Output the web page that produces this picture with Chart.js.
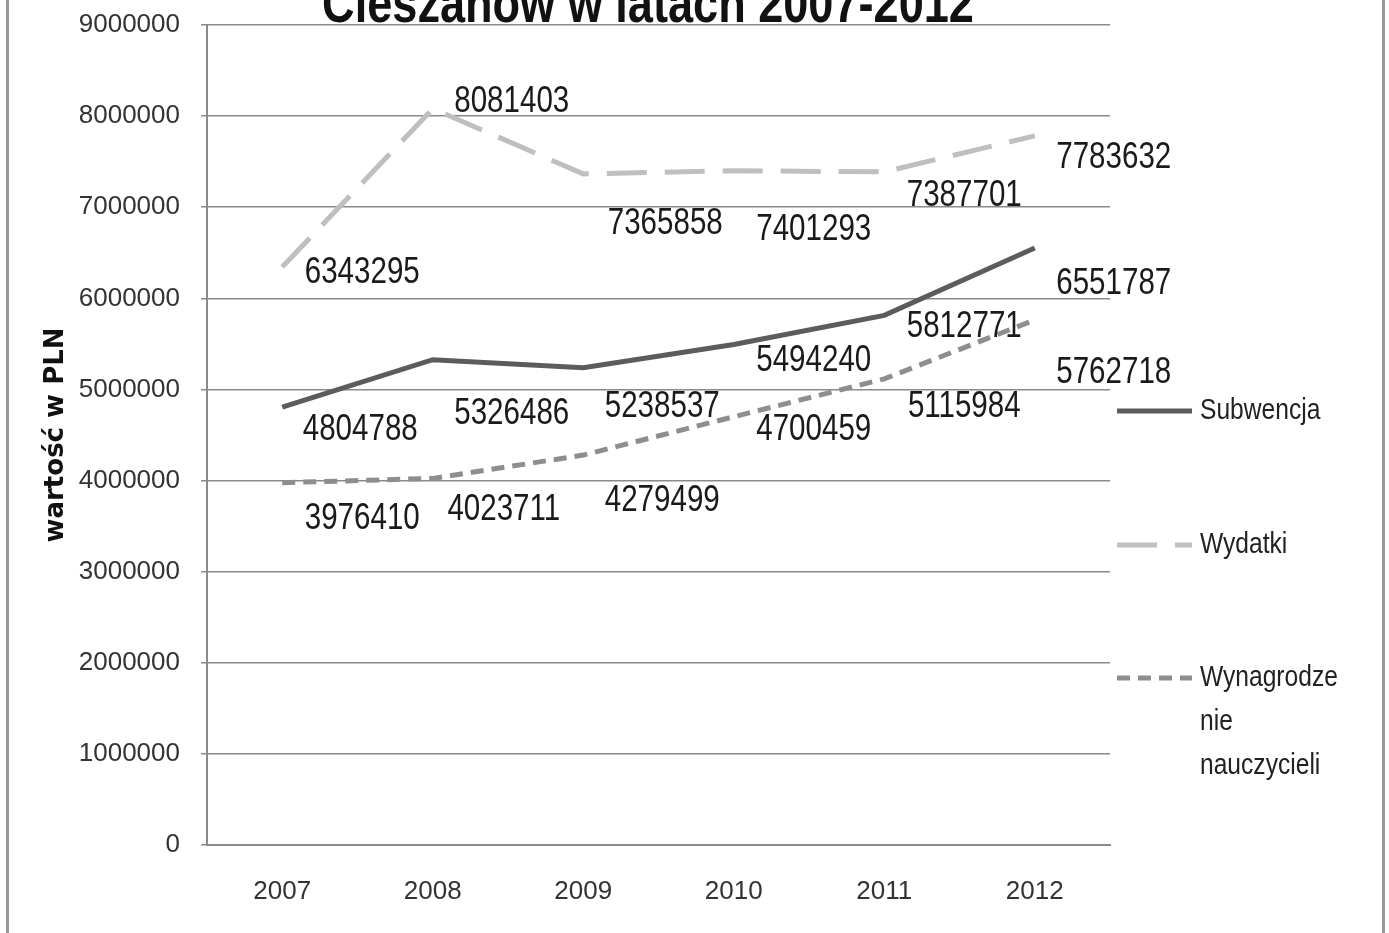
<!DOCTYPE html>
<html>
<head>
<meta charset="utf-8">
<script src="https://cdn.jsdelivr.net/npm/chart.js@4.4.0/dist/chart.umd.min.js"></script>
<style>
  html, body { margin: 0; padding: 0; background: #fff; overflow: hidden; }
  #wrap { position: relative; width: 1389px; height: 933px; }
  #frame { position: absolute; left: 6px; top: 0; width: 1373px; height: 933px;
           border-left: 3px solid #9a9a9a; border-right: 3px solid #9a9a9a; pointer-events: none; }
</style>
</head>
<body>
<div id="wrap">
  <canvas id="chart" width="1389" height="933"></canvas>
  <div id="frame"></div>
</div>
<script>
// data
const years = ['2007', '2008', '2009', '2010', '2011', '2012'];
const subwencja = [4804788, 5326486, 5238537, 5494240, 5812771, 6551787];
const wydatki = [6343295, 8081403, 7365858, 7401293, 7387701, 7783632];
const wynagrodzenia = [3976410, 4023711, 4279499, 4700459, 5115984, 5762718];
const yTicks = [0, 1000000, 2000000, 3000000, 4000000, 5000000, 6000000, 7000000, 8000000, 9000000];

const chartTitle = 'Cieszanów w latach 2007-2012';
const yTitle = 'wartość w PLN';
const seriesNames = ['Subwencja', 'Wydatki', 'Wynagrodzenie nauczycieli'];
// legend text wrapped the way the original box wraps it
const legendText = [['Subwencja'], ['Wydatki'], ['Wynagrodze', 'nie', 'nauczycieli']];

// where each value label sits relative to its point (px)
const labelShift = [
  [[78, 23], [79, 54], [79, 39], [80, 17], [80, 12], [79, 36]],
  [[80, 6], [79, -7], [82, 50], [80, 59], [80, 24], [79, 22]],
  [[80, 36], [71, 32], [79, 46], [80, 13], [80, 28], [79, 53]]
];

const sans = "'Liberation Sans', Arial, sans-serif";
const squeeze = 0.82; // narrow look of the original text

function narrowText(ctx, text, x, y, align) {
  ctx.save();
  ctx.translate(x, y);
  ctx.scale(squeeze, 1);
  ctx.textAlign = align;
  ctx.fillText(text, 0, 0);
  ctx.restore();
}

const titlePlugin = {
  id: 'cutTitle',
  afterDraw(chart) {
    const ctx = chart.ctx;
    ctx.save();
    ctx.font = 'bold 55px ' + sans;
    ctx.fillStyle = '#111';
    ctx.textBaseline = 'alphabetic';
    narrowText(ctx, chartTitle, 648, 22, 'center');
    ctx.restore();
  }
};

const valueLabels = {
  id: 'valueLabels',
  afterDatasetsDraw(chart) {
    const ctx = chart.ctx;
    ctx.save();
    ctx.font = '36px ' + sans;
    ctx.fillStyle = '#1a1a1a';
    ctx.textBaseline = 'middle';
    chart.data.datasets.forEach((ds, i) => {
      const meta = chart.getDatasetMeta(i);
      meta.data.forEach((pt, j) => {
        const s = labelShift[i][j];
        narrowText(ctx, String(ds.data[j]), pt.x + s[0], pt.y + s[1], 'center');
      });
    });
    ctx.restore();
  }
};

const sideLegend = {
  id: 'sideLegend',
  afterDraw(chart) {
    const ctx = chart.ctx;
    const rowY = [411, 545, 678];
    ctx.save();
    chart.data.datasets.forEach((ds, i) => {
      const y = rowY[i];
      ctx.strokeStyle = ds.borderColor;
      ctx.lineWidth = ds.borderWidth;
      ctx.setLineDash(ds.borderDash || []);
      ctx.beginPath();
      ctx.moveTo(1117, y);
      ctx.lineTo(1192, y);
      ctx.stroke();
      ctx.setLineDash([]);
      ctx.font = '30px ' + sans;
      ctx.fillStyle = '#222';
      ctx.textBaseline = 'middle';
      legendText[i].forEach((t, k) => narrowText(ctx, t, 1200, y + k * 44, 'left'));
    });
    ctx.restore();
  }
};

new Chart(document.getElementById('chart'), {
  type: 'line',
  data: {
    labels: years,
    datasets: [
      {
        label: seriesNames[0],
        data: subwencja,
        borderColor: '#5c5c5c',
        borderWidth: 5,
        pointRadius: 0,
        tension: 0,
        fill: false
      },
      {
        label: seriesNames[1],
        data: wydatki,
        borderColor: '#bfbfbf',
        borderWidth: 5,
        borderDash: [40, 18],
        pointRadius: 0,
        tension: 0,
        fill: false
      },
      {
        label: seriesNames[2],
        data: wynagrodzenia,
        borderColor: '#8e8e8e',
        borderWidth: 5,
        borderDash: [13, 8],
        pointRadius: 0,
        tension: 0,
        fill: false
      }
    ]
  },
  options: {
    responsive: false,
    animation: false,
    layout: { padding: { left: 0, top: 25, right: 279, bottom: 0 } },
    plugins: {
      legend: { display: false },
      tooltip: { enabled: false },
      title: { display: false }
    },
    scales: {
      x: {
        type: 'category',
        offset: true,
        afterFit(scale) { scale.height = 88; },
        grid: { display: false, drawTicks: false },
        border: { display: true, color: '#8a8a8a', width: 2 },
        ticks: {
          padding: 31,
          color: '#333',
          font: { family: sans, size: 26 }
        }
      },
      y: {
        min: yTicks[0],
        max: yTicks[yTicks.length - 1],
        afterFit(scale) {
          scale.width = 207;
          scale.paddingTop = 0;
          scale.paddingBottom = 0;
        },
        afterBuildTicks(scale) { scale.ticks = yTicks.map(v => ({ value: v })); },
        grid: { color: '#8a8a8a', lineWidth: 1.5, tickLength: 6 },
        border: { display: true, color: '#8a8a8a', width: 2 },
        ticks: {
          padding: 21,
          color: '#333',
          font: { family: sans, size: 26 },
          callback: v => String(v)
        },
        title: {
          display: true,
          text: yTitle,
          color: '#111',
          padding: { top: 41, bottom: 0 },
          font: { family: "'DejaVu Sans', sans-serif", size: 26, weight: 'bold' }
        }
      }
    }
  },
  plugins: [titlePlugin, valueLabels, sideLegend]
});
</script>
</body>
</html>
